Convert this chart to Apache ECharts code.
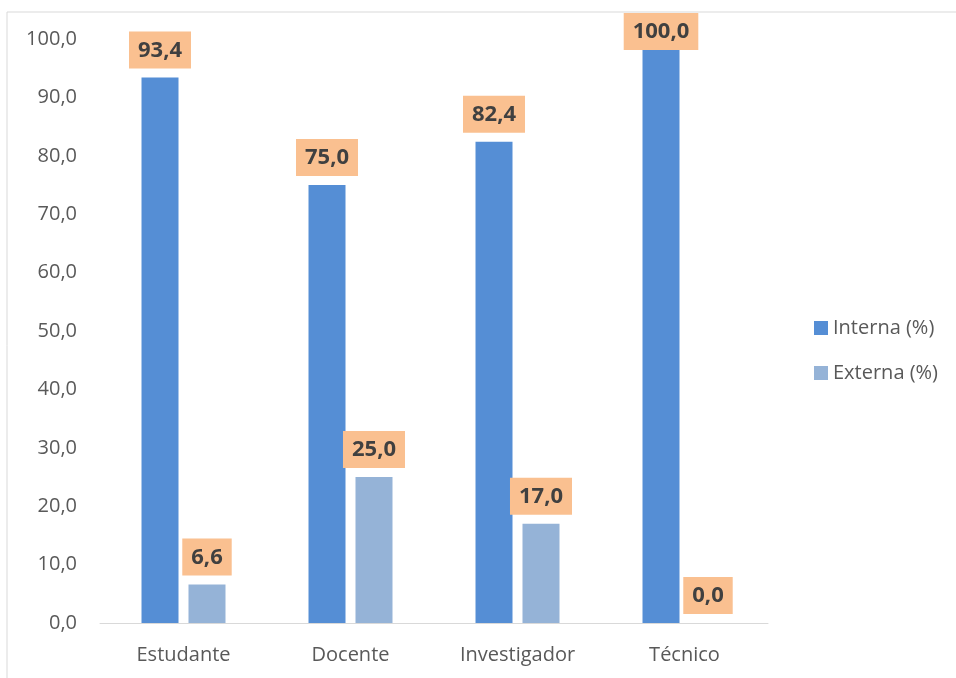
<!DOCTYPE html>
<html><head><meta charset="utf-8">
<script src="https://cdn.jsdelivr.net/npm/echarts@6/dist/echarts.min.js"></script>
<style>html,body{margin:0;padding:0;background:#fff}#c{width:956px;height:678px}</style>
</head><body><div id="c"></div>
<script>
const categories = ['Estudante', 'Docente', 'Investigador', 'Técnico'];
const interna = [93.4, 75.0, 82.4, 100.0];
const externa = [6.6, 25.0, 17.0, 0.0];
const seriesNames = ['Interna (%)', 'Externa (%)'];

const chart = echarts.init(document.getElementById('c'));
const fmt = v => v.toFixed(1).replace('.', ',');
const lbl = {
  show: true, position: 'top', distance: 9,
  formatter: p => fmt(p.value),
  backgroundColor: '#FAC090', padding: [8, 9, 7, 9], lineHeight: 22,
  color: '#404040', fontSize: 22, fontWeight: 'bold', fontFamily: 'Open Sans'
};
// keep labels inside the chart area (Excel-like) when they would overflow
const toData = arr => arr.map(v => v >= 99.5
  ? { value: v, label: { offset: [0, 20] } } : v);
chart.setOption({
  animation: false,
  textStyle: { fontFamily: 'Open Sans' },
  graphic: [{ type: 'rect', shape: { x: 7, y: 12, width: 1000, height: 1000 },
    style: { fill: 'none', stroke: '#d9d9d9', lineWidth: 1 }, silent: true }],
  grid: { left: 100, right: 188, top: 39, bottom: 55 },
  legend: {
    orient: 'vertical', left: 809, top: 313, itemWidth: 14, itemHeight: 14,
    itemGap: 25, icon: 'rect',
    textStyle: { color: '#595959', fontSize: 20, lineHeight: 20, fontFamily: 'Open Sans' },
    data: seriesNames
  },
  xAxis: {
    type: 'category', data: categories,
    axisLine: { lineStyle: { color: '#d9d9d9', width: 1 } },
    axisTick: { show: false },
    axisLabel: { color: '#595959', fontSize: 20, margin: 22 }
  },
  yAxis: {
    type: 'value', min: 0, max: 100, interval: 10,
    splitLine: { show: false },
    axisLine: { show: false }, axisTick: { show: false },
    axisLabel: { color: '#595959', fontSize: 20, margin: 23, formatter: v => fmt(v) }
  },
  series: [
    { name: seriesNames[0], type: 'bar', data: toData(interna), barWidth: 37, barGap: '27%',
      itemStyle: { color: '#558ED5' }, label: lbl },
    { name: seriesNames[1], type: 'bar', data: toData(externa), barWidth: 37,
      itemStyle: { color: '#95B3D7' }, label: lbl }
  ]
});
</script></body></html>
